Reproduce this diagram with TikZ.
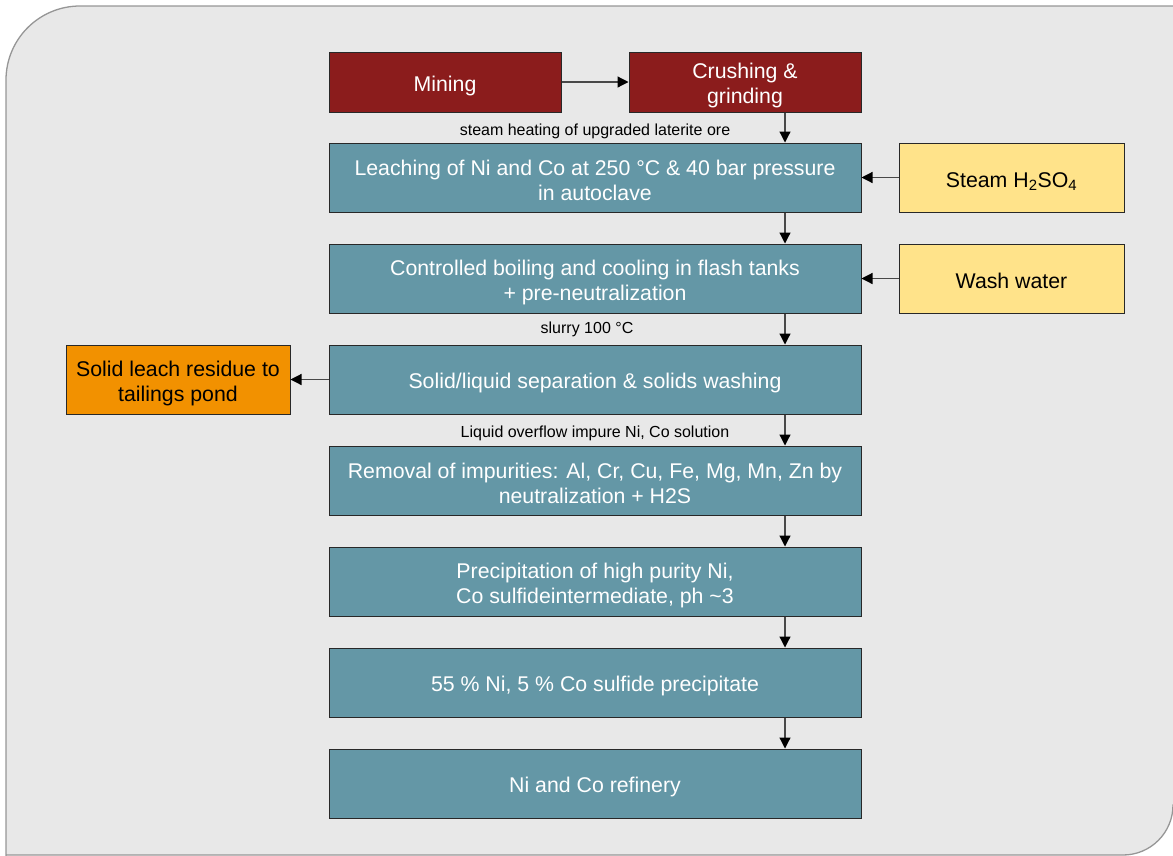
\documentclass[tikz,border=0pt]{standalone}
\usepackage{fontspec}
\setmainfont{Liberation Sans}
\usetikzlibrary{arrows.meta}
\definecolor{panel}{RGB}{232,232,232}
\definecolor{panelline}{RGB}{150,150,150}
\definecolor{minered}{RGB}{139,28,28}
\definecolor{procteal}{RGB}{100,151,166}
\definecolor{inyellow}{RGB}{255,227,138}
\definecolor{outorange}{RGB}{242,145,0}
\definecolor{edge}{RGB}{40,40,40}
% struts that set the vertical placement of box labels
\newcommand{\padtop}{\rule{0pt}{23pt}}
\newcommand{\padbot}{\rule[-3pt]{0pt}{3pt}}
\begin{document}
\begin{tikzpicture}[x=1pt,y=-1pt,
  box/.style={draw=edge,line width=1pt,minimum width=232pt,minimum height=69pt,
    align=center,text=white,font=\fontsize{21.3}{25}\selectfont,inner sep=2pt},
  oneline/.style={execute at begin node={\rule{0pt}{23pt}},
    execute at end node={\rule[-3pt]{0pt}{3pt}}},
  procbox/.style={box,fill=procteal,minimum width=532pt},
  minebox/.style={box,fill=minered,minimum height=60pt},
  inbox/.style={box,fill=inyellow,text=black,minimum width=225pt},
  outbox/.style={box,fill=outorange,text=black,minimum width=224pt},
  flow/.style={draw=edge!85,line width=1.2pt,
    -{Triangle[length=11pt,width=11pt,color=black,fill=black]}},
  note/.style={font=\fontsize{16}{18}\selectfont,text=black}]
\useasboundingbox (0,0) rectangle (1173,855);
% grey panel, rounded at top left and bottom right
\filldraw[fill=panel,draw=panelline,line width=1.3pt]
  (6,900) -- (6,80) arc[start angle=180,end angle=270,radius=74] -- (1240,6)
  -- (1240,805) -- (1173,805) arc[start angle=0,end angle=90,radius=50] -- (6,855) -- cycle;
\fill[panel] (1173.7,700) rectangle (1240,804);
\fill[panel] (7,855.7) rectangle (1122,900);

\node[minebox,oneline] (mine) at (445,82) {Mining};
\node[minebox] (crush) at (745,82) {\padtop Crushing \&\\grinding\padbot};
\node[procbox] (leach) at (595,177.5) {\padtop Leaching of Ni and Co at 250 °C \& 40 bar pressure\\in autoclave\padbot};
\node[procbox] (flash) at (595,278.5) {\padtop Controlled boiling and cooling in flash tanks\\+ pre-neutralization\padbot};
\node[procbox,oneline] (sep) at (595,379.5) {Solid/liquid separation \& solids washing};
\node[procbox] (imp) at (595,480.5) {\padtop Removal of impurities: Al, Cr, Cu, Fe, Mg, Mn, Zn by\\neutralization + H2S\padbot};
\node[procbox] (prec) at (595,581.5) {\padtop Precipitation of high purity Ni,\\Co sulfideintermediate, ph \textasciitilde3\padbot};
\node[procbox,oneline] (sulf) at (595,682.5) {55 \% Ni, 5 \% Co sulfide precipitate};
\node[procbox,oneline] (ref) at (595,783.5) {Ni and Co refinery};
\node[inbox,oneline] (steam) at (1011.5,177.5) {Steam H\textsubscript{2}SO\textsubscript{4}};
\node[inbox,oneline] (wash) at (1011.5,278.5) {Wash water};
\node[outbox] (tail) at (178,379.5) {\padtop Solid leach residue to\\tailings pond\padbot};

\node[note] (n1) at (595,131) {steam heating of upgraded laterite ore};
\node[note] (n2) at (587,329) {slurry 100 °C};
\node[note] (n3) at (595,433) {Liquid overflow impure Ni, Co solution};

\draw[flow] (mine) -- (crush);
\draw[flow] (crush.south -| 785,0) -- (leach.north -| 785,0);
\draw[flow] (leach.south -| 785,0) -- (flash.north -| 785,0);
\draw[flow] (flash.south -| 785,0) -- (sep.north -| 785,0);
\draw[flow] (sep.south -| 785,0) -- (imp.north -| 785,0);
\draw[flow] (imp.south -| 785,0) -- (prec.north -| 785,0);
\draw[flow] (prec.south -| 785,0) -- (sulf.north -| 785,0);
\draw[flow] (sulf.south -| 785,0) -- (ref.north -| 785,0);
\draw[flow] (steam) -- (leach);
\draw[flow] (wash) -- (flash);
\draw[flow] (sep) -- (tail);
\end{tikzpicture}
\end{document}
